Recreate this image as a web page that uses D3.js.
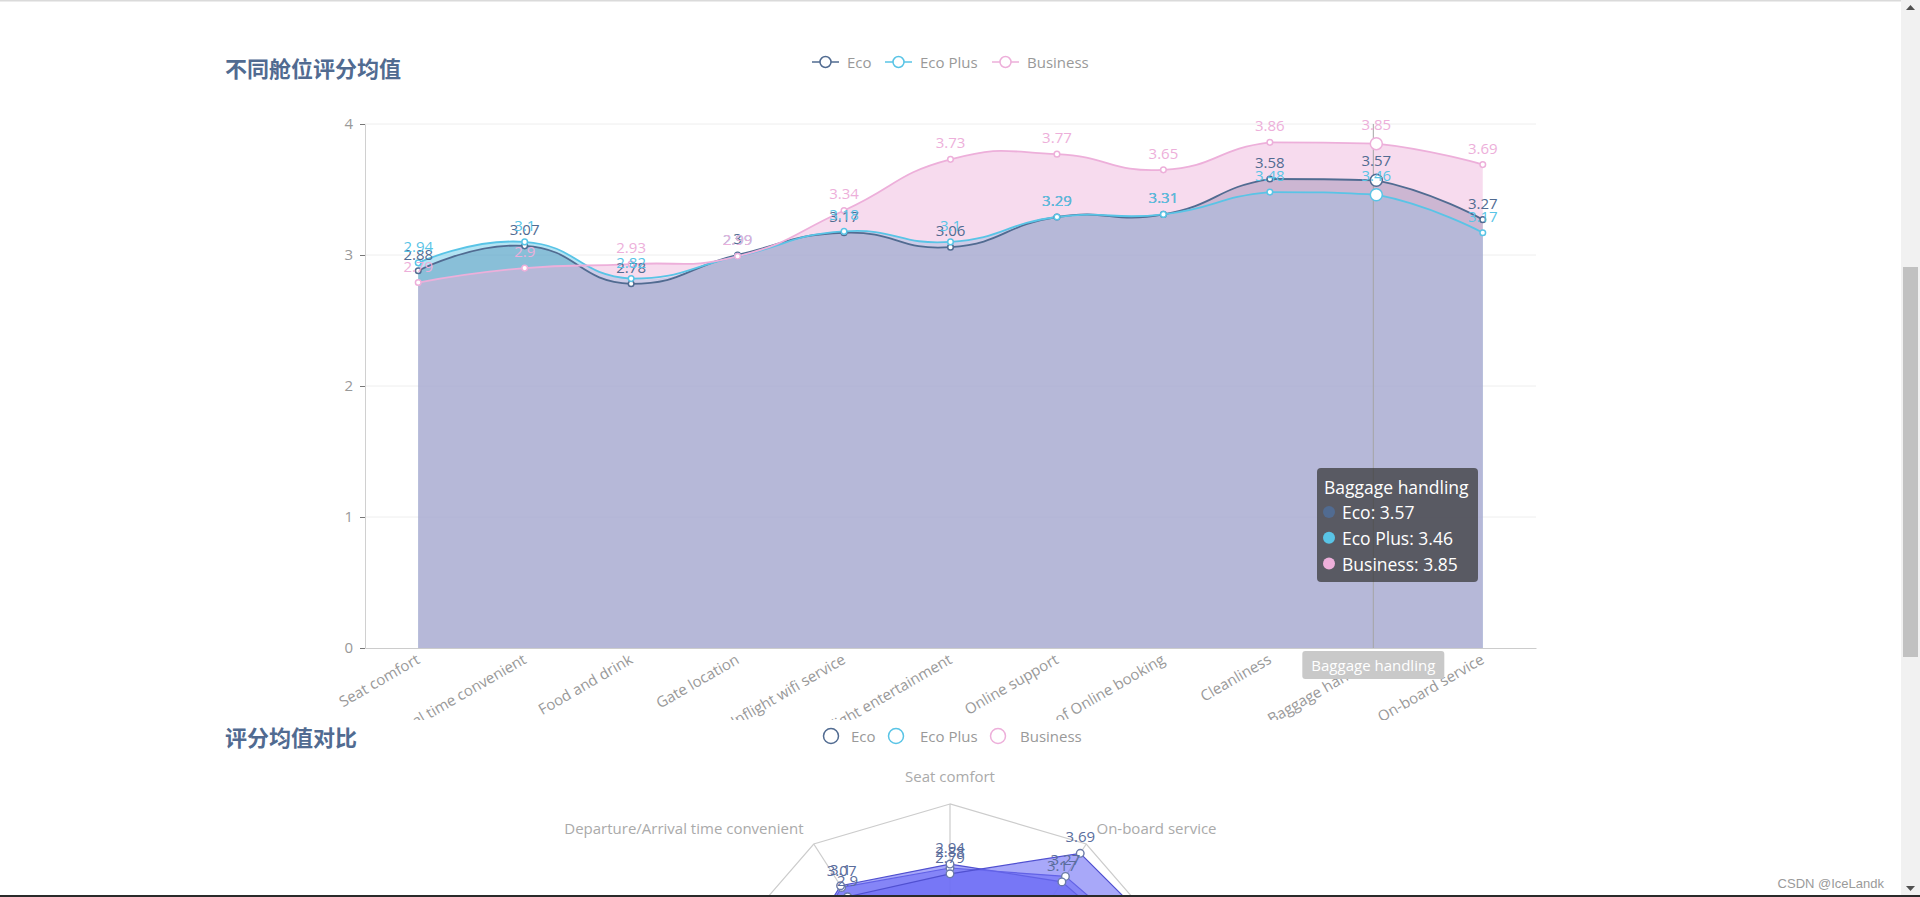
<!DOCTYPE html>
<html><head><meta charset="utf-8">
<script src="https://cdn.jsdelivr.net/npm/d3@7"></script>
<style>
html,body{margin:0;padding:0;background:#fff;overflow:hidden;}
svg{display:block;font-family:"Open Sans","Noto Sans CJK SC",sans-serif;}
</style></head><body>
<svg id="c" width="1920" height="897"></svg>
<script>
// ---------------- data ----------------
const categories = ["Seat comfort","Departure/Arrival time convenient","Food and drink","Gate location","Inflight wifi service","Inflight entertainment","Online support","Ease of Online booking","Cleanliness","Baggage handling","On-board service"];
const seriesNames = ["Eco","Eco Plus","Business"];
const ecoValues      = [2.88,3.07,2.78,3.00,3.17,3.06,3.29,3.31,3.58,3.57,3.27];
const ecoPlusValues  = [2.94,3.10,2.82,2.99,3.18,3.10,3.29,3.31,3.48,3.46,3.17];
const businessValues = [2.79,2.90,2.93,2.99,3.34,3.73,3.77,3.65,3.86,3.85,3.69];
const yTicks = [0,1,2,3,4];
const hoverCategory = "Baggage handling";
const titles = ["不同舱位评分均值","评分均值对比"];
const watermark = "CSDN @IceLandk";

const colors = ["#516b91","#59c4e6","#edafda"];
const series = seriesNames.map((n,i)=>({name:n, values:[ecoValues,ecoPlusValues,businessValues][i], color:colors[i]}));

const svg = d3.select("#c");
const fmt = v => String(+v.toFixed(2));

// ECharts(4)-like smooth path with bounding-box constraint on control points
function smoothPath(pts, p, yMinC, yMaxC, smooth=0.5){
  const xs = pts.map(d=>d[0]);
  const xMin = d3.min(xs), xMax = d3.max(xs);
  const cl = (cx,cy) => [Math.max(xMin,Math.min(xMax,cx)), Math.max(yMinC,Math.min(yMaxC,cy))];
  p.moveTo(pts[0][0], pts[0][1]);
  let c0 = [pts[0][0], pts[0][1]];
  for(let i=1;i<pts.length;i++){
    const [x,y] = pts[i], prev = pts[i-1];
    let c1, next0 = null;
    if(i < pts.length-1){
      const next = pts[i+1];
      const vx = next[0]-prev[0], vy = next[1]-prev[1];
      const d0 = Math.hypot(x-prev[0], y-prev[1]);
      const d1 = Math.hypot(next[0]-x, next[1]-y);
      const r = d1/(d0+d1);
      c1 = [x - vx*smooth*(1-r), y - vy*smooth*(1-r)];
      next0 = [x + vx*smooth*r, y + vy*smooth*r];
    } else {
      c1 = [x,y];
    }
    const a = cl(c0[0],c0[1]), b = cl(c1[0],c1[1]);
    p.bezierCurveTo(a[0], a[1], b[0], b[1], x, y);
    if(next0) c0 = next0;
  }
  return p;
}

// ---------------- chart 1: line/area ----------------
const x = d3.scaleBand().domain(categories).range([365,1536]).padding(0);
const xc = c => x(c) + x.bandwidth()/2;
const y = d3.scaleLinear().domain([0,4]).range([648,124]);

svg.append("rect").attr("x",0).attr("y",0).attr("width",1920).attr("height",1.5).attr("fill","#dadada");

svg.append("text").attr("x",225).attr("y",67).attr("dominant-baseline","central")
  .attr("font-size",22).attr("font-weight","bold").attr("fill","#516b91")
  .attr("font-family","'Noto Sans CJK SC',sans-serif").text(titles[0]);

// legend 1
const leg1X = [812, 885, 992];
const lg1 = svg.append("g").selectAll("g").data(series).join("g")
  .attr("transform",(d,i)=>`translate(${leg1X[i]},62)`);
lg1.append("line").attr("x1",0).attr("x2",27).attr("stroke",d=>d.color).attr("stroke-width",1.5);
lg1.append("circle").attr("cx",13.5).attr("r",5.5).attr("fill","#fff").attr("stroke",d=>d.color).attr("stroke-width",1.5);
lg1.append("text").attr("x",35).attr("dominant-baseline","central").attr("font-size",15).attr("fill","#999").text(d=>d.name);

// grid
svg.append("g").selectAll("line").data(yTicks.filter(t=>t>0)).join("line")
  .attr("x1",365).attr("x2",1536).attr("y1",d=>y(d)).attr("y2",d=>y(d))
  .attr("stroke","#eeeeee").attr("stroke-width",1);

// areas
const areaG = svg.append("g");
series.forEach(s=>{
  const pts = s.values.map((v,i)=>[xc(categories[i]), y(v)]);
  const p = smoothPath(pts, d3.path(), d3.min(pts,d=>d[1]), y(0));
  p.lineTo(pts[pts.length-1][0], y(0));
  p.lineTo(pts[0][0], y(0));
  p.closePath();
  areaG.append("path").attr("d",p.toString()).attr("fill",s.color).attr("fill-opacity",0.45);
});

// y axis
const yAxis = svg.append("g").attr("transform","translate(365,0)")
  .call(d3.axisLeft(y).tickValues(yTicks).tickSize(5).tickSizeOuter(0).tickPadding(7).tickFormat(d3.format("d")));
yAxis.select(".domain").attr("stroke","#d0d0d0");
yAxis.selectAll(".tick line").attr("stroke","#777");
yAxis.selectAll("text").attr("font-size",15).attr("fill","#999").attr("font-family","'Open Sans',sans-serif");

// x axis
const xAxis = svg.append("g").attr("transform","translate(0,648)")
  .call(d3.axisBottom(x).tickSize(0).tickSizeOuter(0));
xAxis.select(".domain").attr("stroke","#cccccc");
xAxis.selectAll(".tick text")
  .attr("y",0).attr("dy","0.35em").attr("text-anchor","end")
  .attr("transform","translate(0,10) rotate(-30)")
  .attr("font-size",15).attr("fill","#999").attr("font-family","'Open Sans',sans-serif");
// clip the labels at the chart container bottom (y = 720)
svg.append("clipPath").attr("id","clip2").append("rect").attr("x",-400).attr("y",-20).attr("width",800).attr("height",92);
xAxis.selectAll(".tick").attr("clip-path","url(#clip2)");

// axis pointer line
const hx = xc(hoverCategory) - 3;
svg.append("line").attr("x1",hx).attr("x2",hx).attr("y1",y(4)).attr("y2",y(0))
  .attr("stroke","#a5a5a5").attr("stroke-width",1);

// lines
series.forEach(s=>{
  const pts = s.values.map((v,i)=>[xc(categories[i]), y(v)]);
  svg.append("path").attr("d",smoothPath(pts,d3.path(), d3.min(pts,d=>d[1]), d3.max(pts,d=>d[1])).toString())
    .attr("fill","none").attr("stroke",s.color).attr("stroke-width",1.8);
});
// symbols
series.forEach(s=>{
  svg.append("g").selectAll("circle").data(s.values).join("circle")
    .attr("cx",(d,i)=>xc(categories[i])).attr("cy",d=>y(d))
    .attr("r",(d,i)=>categories[i]===hoverCategory?6:2.8)
    .attr("fill","#fff").attr("stroke",s.color).attr("stroke-width",1.5);
});
// labels
series.forEach(s=>{
  svg.append("g").selectAll("text").data(s.values).join("text")
    .attr("x",(d,i)=>xc(categories[i]))
    .attr("y",(d,i)=>y(d)-(categories[i]===hoverCategory?20:17))
    .attr("text-anchor","middle").attr("dominant-baseline","central")
    .attr("font-size",15).attr("fill",s.color).text(d=>fmt(d));
});

// axis pointer label
const apg = svg.append("g").attr("transform",`translate(${hx},665)`);
apg.append("rect").attr("x",-71).attr("y",-14).attr("width",142).attr("height",28).attr("rx",3)
  .attr("fill","#c9c9c9");
apg.append("text").attr("text-anchor","middle").attr("dominant-baseline","central")
  .attr("font-size",15).attr("fill","#fff").text(hoverCategory);

// tooltip
const hi = categories.indexOf(hoverCategory);
const tg = svg.append("g").attr("transform","translate(1317,468)");
tg.append("rect").attr("width",161).attr("height",114).attr("rx",4).attr("fill","rgba(50,50,50,0.7)");
tg.append("text").attr("x",7).attr("y",18.5).attr("dominant-baseline","central")
  .attr("font-size",17.5).attr("fill","#fff").text(hoverCategory);
const tRows = tg.selectAll("g.row").data(series).join("g").attr("class","row")
  .attr("transform",(d,i)=>`translate(0,${44+i*25.8})`);
tRows.append("circle").attr("cx",12).attr("r",6).attr("fill",d=>d.color);
tRows.append("text").attr("x",25).attr("dominant-baseline","central").attr("font-size",17.5)
  .attr("fill","#fff").text(d=>`${d.name}: ${fmt(d.values[hi])}`);

// ---------------- chart 2: radar ----------------
svg.append("text").attr("x",225).attr("y",736).attr("dominant-baseline","central")
  .attr("font-size",22).attr("font-weight","bold").attr("fill","#516b91")
  .attr("font-family","'Noto Sans CJK SC',sans-serif").text(titles[1]);

const leg2X = [831, 896, 998];
const lg2 = svg.append("g").selectAll("g").data(series).join("g")
  .attr("transform",(d,i)=>`translate(${leg2X[i]},736)`);
lg2.append("circle").attr("r",7.5).attr("fill","#fff").attr("stroke",d=>d.color).attr("stroke-width",1.5);
lg2.append("text").attr("x",(d,i)=>[20,24,22][i]).attr("dominant-baseline","central").attr("font-size",15).attr("fill","#999").text(d=>d.name);

const allVals = ecoValues.concat(ecoPlusValues, businessValues);
const rc = {x:950, y:1056};
const rScale = d3.scaleLinear().domain([0, d3.max(allVals)]).range([0, 252]);
const ang = d3.scaleLinear().domain([0, categories.length]).range([0, 2*Math.PI]);
const rp = (i,v) => { const a = ang(i), r = rScale(v); return [rc.x - r*Math.sin(a), rc.y - r*Math.cos(a)]; };
const rmax = rScale.domain()[1];

const rg = svg.append("g");
rg.append("path").attr("d", d3.line()(categories.map((c,i)=>rp(i,rmax))) + "Z")
  .attr("fill","none").attr("stroke","#cccccc").attr("stroke-width",1.2);
rg.selectAll("line.spoke").data(categories).join("line").attr("class","spoke")
  .attr("x1",rc.x).attr("y1",rc.y)
  .attr("x2",(c,i)=>rp(i,rmax)[0]).attr("y2",(c,i)=>rp(i,rmax)[1])
  .attr("stroke","#cccccc").attr("stroke-width",1.2);
// indicator names
rg.selectAll("text.ind").data(categories).join("text").attr("class","ind")
  .each(function(c,i){
    const a = ang(i), dx = -Math.sin(a), dy = -Math.cos(a);
    const [px,py] = rp(i, rmax);
    const tx = px + dx*19, ty = py + dy*19;
    const t = d3.select(this).attr("x",tx).attr("y",ty).attr("font-size",15).attr("fill","#aaa").text(c);
    t.attr("text-anchor", Math.abs(dx)<0.01 ? "middle" : (dx>0?"start":"end"));
    if(Math.abs(dx)<0.01) t.attr("dy", dy<0 ? "-0.2em" : "0.9em");
    else t.attr("dominant-baseline","central");
  });
// series polygons
series.forEach(s=>{
  rg.append("path").attr("d", d3.line()(s.values.map((v,i)=>rp(i,v))) + "Z")
    .attr("fill","rgb(110,110,245)").attr("fill-opacity",0.6)
    .attr("stroke","#5050d0").attr("stroke-width",1.2);
});
series.forEach(s=>{
  rg.append("g").selectAll("circle").data(s.values).join("circle")
    .attr("cx",(v,i)=>rp(i,v)[0]).attr("cy",(v,i)=>rp(i,v)[1]).attr("r",3.8)
    .attr("fill","#fff").attr("stroke","#6a7aa8").attr("stroke-width",1.4);
});
series.forEach(s=>{
  rg.append("g").selectAll("text").data(s.values).join("text")
    .attr("x",(v,i)=>rp(i,v)[0]).attr("y",(v,i)=>rp(i,v)[1]-17)
    .attr("text-anchor","middle").attr("dominant-baseline","central")
    .attr("font-size",15).attr("fill","#5a6d9c").text(v=>fmt(v));
});

// ---------------- page chrome ----------------
svg.append("text").attr("x",1884).attr("y",888).attr("text-anchor","end")
  .attr("font-size",13).attr("font-family","'Liberation Sans',Arial,sans-serif")
  .attr("fill","#9a9a9a").text(watermark);
svg.append("rect").attr("x",1901).attr("y",0).attr("width",19).attr("height",897).attr("fill","#f1f1f1");
svg.append("rect").attr("x",1903).attr("y",267).attr("width",15).attr("height",390).attr("fill","#c1c1c1");
svg.append("path").attr("d","M1906,10 L1915,10 L1910.5,5 Z").attr("fill","#505050");
svg.append("path").attr("d","M1906,886 L1915,886 L1910.5,891 Z").attr("fill","#505050");
svg.append("rect").attr("x",0).attr("y",895).attr("width",1920).attr("height",2).attr("fill","#2a2a2a");
</script>
</body></html>
